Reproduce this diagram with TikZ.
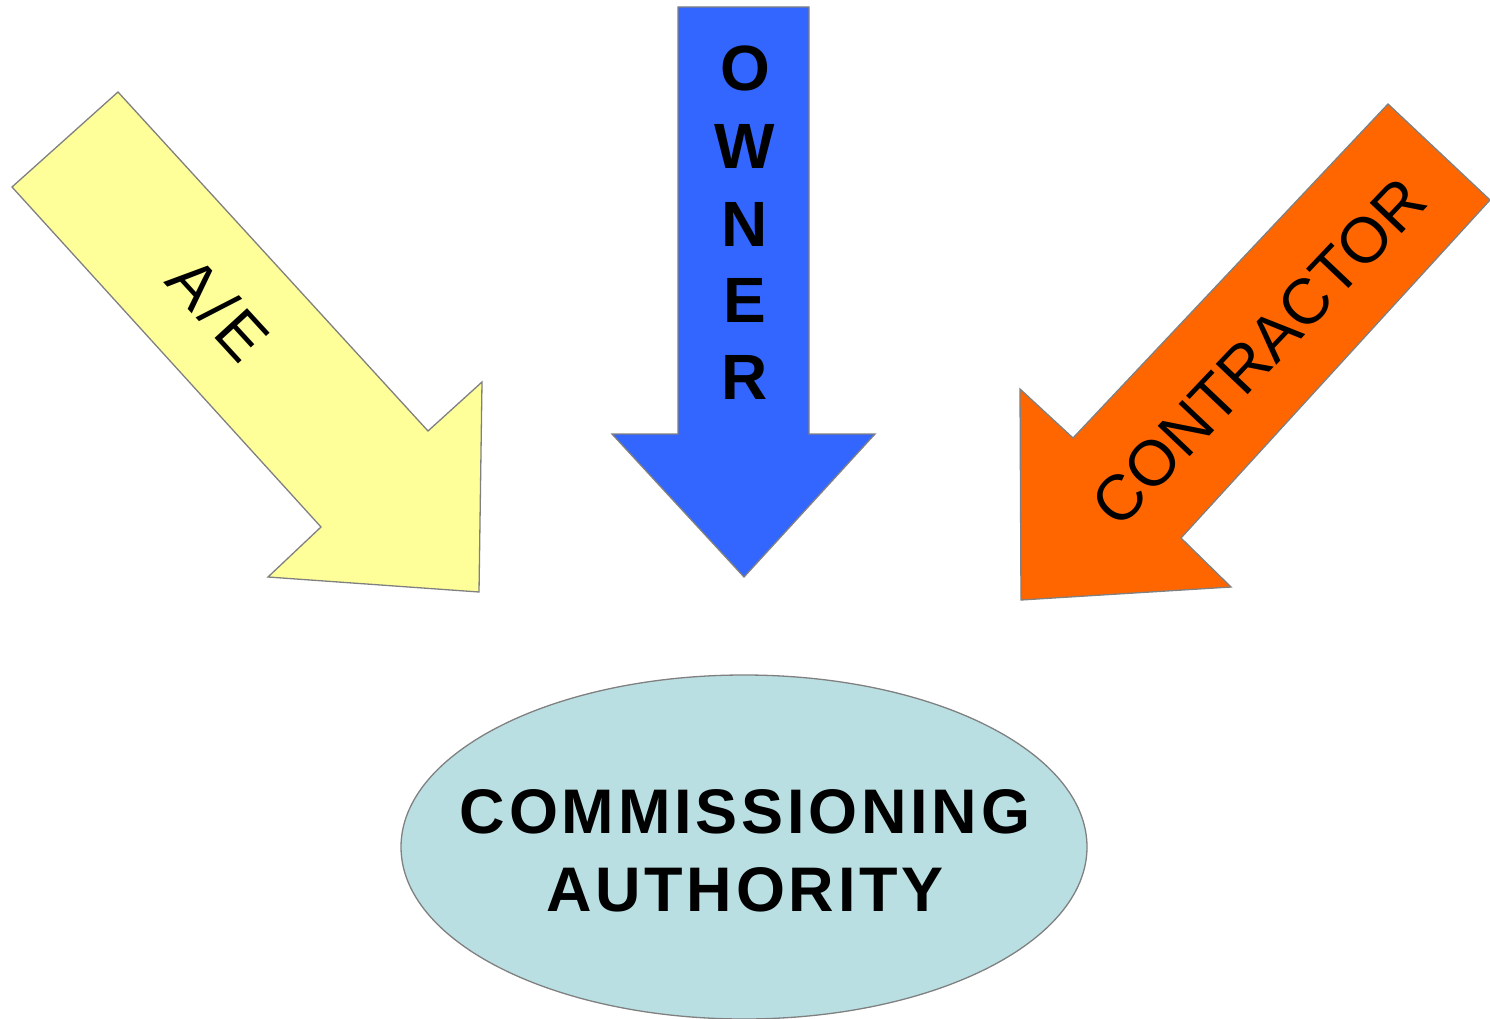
\documentclass[tikz,border=0pt]{standalone}
\usepackage{fontspec}
\setmainfont{Liberation Sans}
\usetikzlibrary{shapes.geometric}
\definecolor{aeyellow}{HTML}{FFFF99}
\definecolor{ownerblue}{HTML}{3366FF}
\definecolor{controrange}{HTML}{FF6600}
\definecolor{cafill}{HTML}{B9DFE3}
\definecolor{edgegray}{HTML}{808080}
\begin{document}
\begin{tikzpicture}[x=1pt,y=-1pt,
  arrowshape/.style={draw=edgegray,line width=1.3pt,line join=miter},
  bigbold/.style={font=\fontsize{63}{78}\selectfont\bfseries\addfontfeatures{LetterSpace=6}},
  bigplain/.style={font=\fontsize{64}{78}\selectfont},
  letterbox/.style={inner sep=0pt,anchor=base,font=\fontsize{64}{64}\selectfont\bfseries}]
\useasboundingbox (0,0) rectangle (1490,1019);

% A/E arrow, pointing down-right
\filldraw[arrowshape,fill=aeyellow]
  (118,92) -- (428,431) -- (482,382) -- (479,592) -- (268,577) -- (321,527) -- (12,187) -- cycle;
\node[bigplain,rotate=-47.5,inner sep=0pt] (ae) at (219,309) {A\kern5pt/\kern5pt E};

% OWNER arrow, pointing straight down
\filldraw[arrowshape,fill=ownerblue]
  (678,7) -- (809,7) -- (809,434) -- (875,434) -- (744,577) -- (612,434) -- (678,434) -- cycle;
\node[letterbox] (o1) at (745,91) {O};
\node[letterbox] (o2) at (745,169) {W};
\node[letterbox] (o3) at (745,246) {N};
\node[letterbox] (o4) at (745,322) {E};
\node[letterbox] (o5) at (745,399) {R};

% CONTRACTOR arrow, pointing down-left
\filldraw[arrowshape,fill=controrange]
  (1388,104) -- (1490,200) -- (1181,538) -- (1231,587) -- (1021,600) -- (1020,389) -- (1073,438) -- cycle;
\node[bigplain,rotate=46.5,inner sep=0pt] (contr) at (1259,352) {CONTRACTOR};

% Commissioning authority
\node[ellipse,draw=edgegray,line width=1.3pt,fill=cafill,minimum width=686pt,minimum height=344pt,inner sep=0pt] (ca) at (744,847) {};
\node[bigbold,align=center,inner sep=0pt] (calabel) at (745,851) {COMMISSIONING\\AUTHORITY};
\end{tikzpicture}
\end{document}
